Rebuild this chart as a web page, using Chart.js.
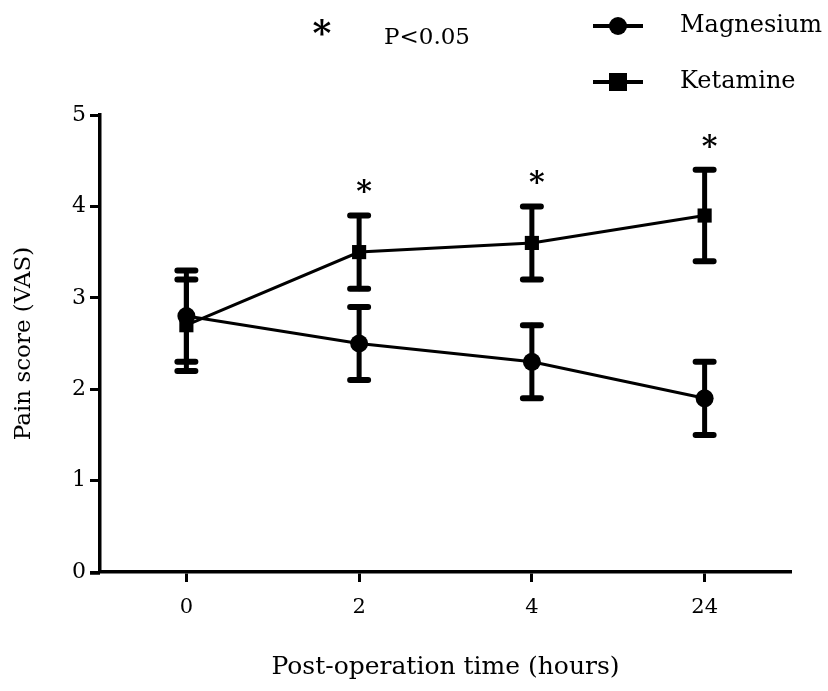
<!DOCTYPE html>
<html>
<head>
<meta charset="utf-8">
<script src="https://cdn.jsdelivr.net/npm/chart.js@4.4.1/dist/chart.umd.min.js"></script>
<style>
  html, body { margin: 0; padding: 0; background: #fff; }
</style>
</head>
<body>
<canvas id="chart" width="828" height="691"></canvas>
<script>
const timeLabels = ['0', '2', '4', '24'];
const magnesium = [2.8, 2.5, 2.3, 1.9];
const magnesiumErr = [0.5, 0.4, 0.4, 0.4];
const ketamine = [2.7, 3.5, 3.6, 3.9];
const ketamineErr = [0.5, 0.4, 0.4, 0.5];
const significant = [false, true, true, true];

const FONT = 'DejaVu Serif';

// vertical error bars with flat caps, drawn under the markers
const errorBars = {
    id: 'errorBars',
    beforeDatasetsDraw(chart) {
        const ctx = chart.ctx;
        const x = chart.scales.x, y = chart.scales.y;
        const errs = [magnesiumErr, ketamineErr];
        ctx.save();
        ctx.strokeStyle = '#000';
        ctx.lineCap = 'round';
        chart.data.datasets.forEach((ds, d) => {
            ds.data.forEach((v, i) => {
                const px = x.getPixelForValue(i);
                const top = y.getPixelForValue(v + errs[d][i]);
                const bot = y.getPixelForValue(v - errs[d][i]);
                ctx.lineWidth = 5;
                ctx.beginPath();
                ctx.moveTo(px, top); ctx.lineTo(px, bot);
                ctx.stroke();
                ctx.lineWidth = 6;
                ctx.beginPath();
                ctx.moveTo(px - 9, top); ctx.lineTo(px + 9, top);
                ctx.moveTo(px - 9, bot); ctx.lineTo(px + 9, bot);
                ctx.stroke();
            });
        });
        ctx.restore();
    }
};

// legend, significance stars and the small axis stub
const extras = {
    id: 'extras',
    afterDraw(chart) {
        const ctx = chart.ctx;
        const x = chart.scales.x, y = chart.scales.y;
        const area = chart.chartArea;
        ctx.save();
        ctx.fillStyle = '#000';
        ctx.strokeStyle = '#000';

        // x axis line runs a little left of the y axis
        ctx.lineWidth = 3.5;
        ctx.beginPath();
        ctx.moveTo(area.left - 10, area.bottom + 1);
        ctx.lineTo(area.left, area.bottom + 1);
        ctx.stroke();

        // stars over the upper error caps
        ctx.font = 'bold 30px ' + FONT;
        ctx.textAlign = 'center';
        ctx.textBaseline = 'middle';
        significant.forEach((s, i) => {
            if (!s) return;
            const top = Math.max(magnesium[i] + magnesiumErr[i], ketamine[i] + ketamineErr[i]);
            ctx.fillText('*', x.getPixelForValue(i) + 5, y.getPixelForValue(top) - 22);
        });

        ctx.font = 'bold 36px ' + FONT;
        ctx.fillText('*', 322, 36);
        ctx.font = '23px ' + FONT;
        ctx.textAlign = 'left';
        ctx.fillText('P<0.05', 384, 38);

        // legend
        const items = [['Magnesium', 'circle', 26], ['Ketamine', 'rect', 82]];
        items.forEach(([label, shape, ly]) => {
            ctx.lineWidth = 4;
            ctx.beginPath();
            ctx.moveTo(593, ly); ctx.lineTo(643, ly);
            ctx.stroke();
            ctx.beginPath();
            if (shape === 'circle') {
                ctx.arc(618, ly, 9, 0, Math.PI * 2);
                ctx.fill();
            } else {
                ctx.fillRect(609, ly - 9, 18, 18);
            }
            ctx.font = '24px ' + FONT;
            ctx.fillText(label, 680, ly);
        });
        ctx.restore();
    }
};

new Chart(document.getElementById('chart').getContext('2d'), {
    type: 'line',
    data: {
        labels: timeLabels,
        datasets: [
            {
                label: 'Magnesium',
                data: magnesium,
                borderColor: '#000',
                backgroundColor: '#000',
                borderWidth: 3,
                pointStyle: 'circle',
                pointRadius: 9,
                pointBorderWidth: 0
            },
            {
                label: 'Ketamine',
                data: ketamine,
                borderColor: '#000',
                backgroundColor: '#000',
                borderWidth: 3,
                pointStyle: 'rect',
                pointRadius: 10,
                pointBorderWidth: 0
            }
        ]
    },
    options: {
        responsive: false,
        animation: false,
        layout: { padding: { top: 115, right: 37, left: 0, bottom: 0 } },
        plugins: { legend: { display: false }, tooltip: { enabled: false } },
        scales: {
            x: {
                type: 'category',
                offset: true,
                grid: { offset: false, drawOnChartArea: false, tickLength: 10, tickWidth: 3, tickColor: '#000' },
                border: { color: '#000', width: 3.5 },
                ticks: { color: '#000', font: { family: FONT, size: 21 }, padding: 13 },
                title: { display: true, text: 'Post-operation time (hours)', color: '#000',
                         font: { family: FONT, size: 25 }, padding: { top: 0, bottom: 9 } },
                afterFit(s) { s.height = 119; }
            },
            y: {
                min: 0,
                max: 5,
                ticks: { stepSize: 1, color: '#000', font: { family: FONT, size: 22 }, padding: 4 },
                grid: { drawOnChartArea: false, tickLength: 10, tickWidth: 3, tickColor: '#000' },
                border: { color: '#000', width: 3.5 },
                title: { display: true, text: 'Pain score (VAS)', color: '#000',
                         font: { family: FONT, size: 23 }, padding: { top: 10, bottom: 0 } },
                afterFit(s) { s.width = 100; }
            }
        }
    },
    plugins: [errorBars, extras]
});
</script>
</body>
</html>
